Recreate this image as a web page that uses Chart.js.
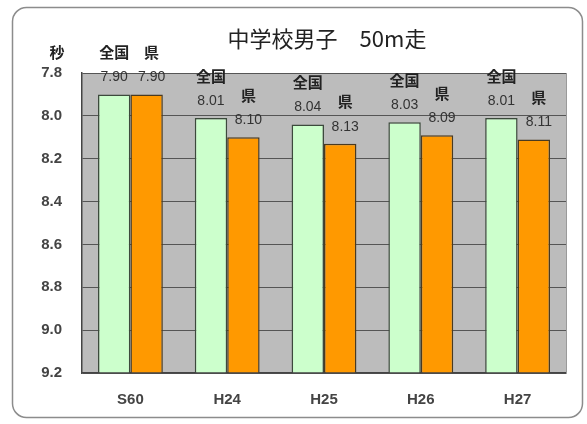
<!DOCTYPE html>
<html>
<head>
<meta charset="utf-8">
<script src="https://cdn.jsdelivr.net/npm/chart.js@4"></script>
<style>
  html, body { margin: 0; padding: 0; background: #fff; }
  #wrap { width: 587px; height: 424px; }
</style>
</head>
<body>
<div id="wrap"><canvas id="chart-bar"></canvas></div>
<script>
// data
var years = ["S60", "H24", "H25", "H26", "H27"];
var zenkoku = [7.90, 8.01, 8.04, 8.03, 8.01];
var ken = [7.90, 8.10, 8.13, 8.09, 8.11];
var seriesNames = ["全国", "県"];
var yTicks = [7.8, 8.0, 8.2, 8.4, 8.6, 8.8, 9.0, 9.2];

var cjk = "'Noto Sans CJK JP', 'Noto Sans', sans-serif";
var num = "'Liberation Sans', Arial, sans-serif";

var deco = {
    id: 'deco',
    beforeDraw: function(chart) {
        var c = chart.ctx, a = chart.chartArea;
        c.save();
        c.fillStyle = '#fff';
        c.fillRect(0, 0, chart.width, chart.height);
        // rounded frame
        c.strokeStyle = '#8c8c8c';
        c.lineWidth = 1.5;
        c.beginPath();
        c.roundRect(12.5, 7.5, 570, 410, 14);
        c.stroke();
        // plot background
        c.fillStyle = '#bcbcbc';
        c.fillRect(a.left, a.top, a.right - a.left, a.bottom - a.top);
        c.restore();
    },
    afterDraw: function(chart) {
        var c = chart.ctx, a = chart.chartArea;
        c.save();
        c.strokeStyle = '#9a9a9a';
        c.lineWidth = 1;
        c.beginPath();
        c.moveTo(a.right + 0.5, a.top);
        c.lineTo(a.right + 0.5, a.bottom);
        c.stroke();

        c.fillStyle = '#222';
        c.textAlign = 'center';
        c.textBaseline = 'middle';
        c.font = '22px ' + cjk;
        c.fillText('中学校男子　50m走', 327, 39);
        c.font = 'bold 15px ' + cjk;
        c.fillText('秒', 57, 52);

        var shift = [0, 5];
        chart.data.datasets.forEach(function(ds, i) {
            var meta = chart.getDatasetMeta(i);
            meta.data.forEach(function(bar, j) {
                var x = bar.x + shift[i];
                c.fillStyle = '#333';
                c.font = '14px ' + num;
                c.fillText(ds.data[j].toFixed(2), x, bar.y - 17);
                c.fillStyle = '#222';
                c.font = 'bold 15px ' + cjk;
                c.fillText(seriesNames[i], x, bar.y - 42);
            });
        });
        c.restore();
    }
};

var ctx = document.getElementById('chart-bar');
var myBarChart = new Chart(ctx, {
    type: 'bar',
    data: {
        labels: years,
        datasets: [{
            label: seriesNames[0],
            data: zenkoku,
            base: 9.2,
            backgroundColor: '#ccffcc',
            borderColor: '#3c4a3c',
            borderWidth: 1.5,
            barPercentage: 1,
            categoryPercentage: 0.67
        }, {
            label: seriesNames[1],
            data: ken,
            base: 9.2,
            backgroundColor: '#ff9900',
            borderColor: '#4a3a20',
            borderWidth: 1.5,
            barPercentage: 1,
            categoryPercentage: 0.67
        }]
    },
    options: {
        responsive: true,
        maintainAspectRatio: false,
        animation: false,
        layout: { padding: { top: 73, right: 21, left: 0, bottom: 0 } },
        plugins: {
            legend: { display: false },
            tooltip: { enabled: false },
            title: { display: false }
        },
        scales: {
            x: {
                afterFit: function(scale) { scale.height = 51; },
                grid: { display: false },
                border: { display: true, color: '#444', width: 1.5 },
                ticks: {
                    color: '#444',
                    padding: 10,
                    font: { family: num, size: 15, weight: 'bold' }
                }
            },
            y: {
                reverse: true,
                min: 7.8,
                max: 9.2,
                afterFit: function(scale) { scale.width = 82; },
                afterBuildTicks: function(scale) {
                    scale.ticks = yTicks.map(function(v) { return { value: v }; });
                },
                grid: { color: '#555', lineWidth: 1, drawTicks: false },
                border: { display: true, color: '#444', width: 1.5 },
                ticks: {
                    color: '#444',
                    padding: 20,
                    font: { family: num, size: 15, weight: 'bold' },
                    callback: function(v) { return Number(v).toFixed(1); }
                }
            }
        }
    },
    plugins: [deco]
});
</script>
</body>
</html>
